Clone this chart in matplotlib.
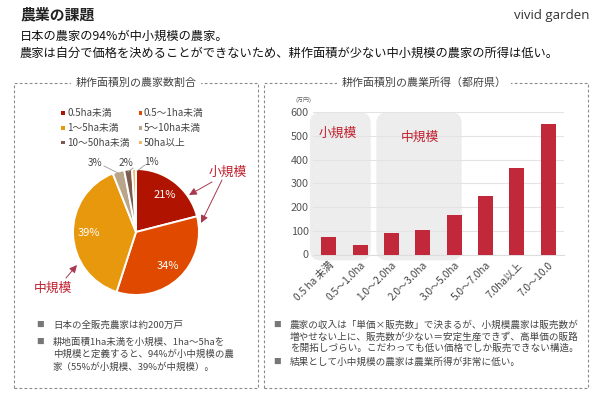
import matplotlib
matplotlib.use("Agg")
import matplotlib.pyplot as plt
from matplotlib.patches import Rectangle, FancyBboxPatch, FancyArrowPatch
from matplotlib.transforms import IdentityTransform

plt.rcParams['font.family'] = ['Noto Sans CJK JP', 'DejaVu Sans']

# ---------------- data ----------------
pie_labels = ['0.5ha未満', '0.5～1ha未満', '1～5ha未満', '5～10ha未満', '10～50ha未満', '50ha以上']
pie_values = [21, 34, 39, 3, 2, 1]
pie_colors = ['#B01400', '#E04A00', '#E8980C', '#B9A58A', '#7D5A4E', '#F0B86A']

bar_categories = ['0.5 ha 未満', '0.5～1.0ha', '1.0～2.0ha', '2.0～3.0ha', '3.0～5.0ha',
                  '5.0～7.0ha', '7.0ha以上', '7.0～10.0']
bar_values = [75, 38, 92, 102, 168, 248, 365, 550]
y_ticks = [0, 100, 200, 300, 400, 500, 600]
bar_color = '#C1283A'

W, H = 600, 395
fig = plt.figure(figsize=(6.0, 3.95), dpi=100)
fig.patch.set_facecolor('white')

def P(x, y):
    return (x / W, 1 - y / H)

RED = '#C0202E'

# ---------------- header ----------------
fig.text(*P(20, 14), '農業の課題', fontsize=10.7, fontweight='bold', color='#222222', va='center', ha='left')
fig.text(*P(590, 15), 'vivid garden', fontsize=9.5, color='#333333', va='center', ha='right',
         family=['Open Sans', 'DejaVu Sans'])
fig.text(*P(20, 36), '日本の農家の94%が中小規模の農家。', fontsize=8.8, color='#111111', va='center', ha='left')
fig.text(*P(20, 53), '農家は自分で価格を決めることができないため、耕作面積が少ない中小規模の農家の所得は低い。',
         fontsize=8.8, color='#111111', va='center', ha='left')

# ---------------- dashed boxes ----------------
def dashed_box(x0, y0, x1, y1):
    r = Rectangle(P(x0, y1), (x1 - x0) / W, (y1 - y0) / H, transform=fig.transFigure,
                  fill=False, edgecolor='#8a8a8a', linewidth=0.8, linestyle=(0, (2.5, 2)))
    fig.add_artist(r)

dashed_box(14, 83, 258, 388)
dashed_box(264, 83, 588, 388)
fig.text(*P(136, 83), '耕作面積別の農家数割合', fontsize=7.9, color='#444444', ha='center', va='center',
         bbox=dict(facecolor='white', edgecolor='none', pad=3))
fig.text(*P(424, 83), '耕作面積別の農業所得（都府県）', fontsize=7.9, color='#444444', ha='center', va='center',
         bbox=dict(facecolor='white', edgecolor='none', pad=3))

# ---------------- legend ----------------
leg_pos = [(63, 113), (140, 113), (63, 128), (140, 128), (63, 143), (140, 143)]
for (lx, ly), lab, col in zip(leg_pos, pie_labels, pie_colors):
    fig.add_artist(Rectangle(P(lx - 1.5, ly + 1.5), 3.5 / W, 3.5 / H, transform=fig.transFigure,
                             facecolor=col, edgecolor='none'))
    fig.text(*P(lx + 4, ly), lab, fontsize=7, color='#444444', ha='left', va='center')

# ---------------- pie ----------------
cx, cy, r = 136, 232, 63
axp = fig.add_axes([(cx - r) / W, 1 - (cy + r) / H, 2 * r / W, 2 * r / H])
wedges, texts, autotexts = axp.pie(
    pie_values, colors=pie_colors, startangle=90, counterclock=False,
    autopct=lambda p: f'{p:.0f}%' if p > 10 else '', pctdistance=0.74,
    wedgeprops=dict(edgecolor='white', linewidth=1.4),
    textprops=dict(color='white', fontsize=8))
axp.set_xlim(-1, 1)
axp.set_ylim(-1, 1)
axp.set_aspect('auto')
axp.axis('off')

# small slice labels with leader lines (figure pixel coords)
small_lab = [(3, (95, 163), (104, 166), (118, 173)),
             (4, (126, 163), (133, 168), (128, 172)),
             (5, (151, 162), (145, 165), (137, 171))]
for idx, (tx, ty), (l0x, l0y), (l1x, l1y) in small_lab:
    fig.text(*P(tx, ty), f'{pie_values[idx]}%', fontsize=7.2, color='#444444', ha='center', va='center')
    fig.add_artist(plt.Line2D([l0x / W, l1x / W], [1 - l0y / H, 1 - l1y / H],
                              transform=fig.transFigure, color='#999999', linewidth=0.6))

# group labels and arrows
fig.text(*P(228, 172), '小規模', fontsize=9.2, color=RED, ha='center', va='center')
fig.text(*P(53, 288), '中規模', fontsize=9.2, color=RED, ha='center', va='center')
arrow_kw = dict(arrowstyle='-|>,head_length=0.45,head_width=0.22', mutation_scale=10,
                color='#A83A50', linewidth=0.7, shrinkA=0, shrinkB=0)
for (x0, y0), (x1, y1) in [((212, 182), (189, 195)), ((222, 180), (201, 223)), ((66, 278), (77, 265))]:
    fig.add_artist(FancyArrowPatch((x0, H - y0), (x1, H - y1), transform=IdentityTransform(), **arrow_kw))

# ---------------- bar chart ----------------
bx0, bx1, by0, by1 = 313, 564, 254.5, 112.3
axb = fig.add_axes([bx0 / W, 1 - by0 / H, (bx1 - bx0) / W, (by0 - by1) / H])
xs = list(range(len(bar_values)))
axb.bar(xs, bar_values, width=0.48, color=bar_color, zorder=3)
axb.set_xlim(-0.5, len(bar_values) - 0.5)
axb.set_ylim(0, 600)
axb.set_yticks(y_ticks)
axb.set_yticklabels([str(v) for v in y_ticks], fontsize=7.8, color='#555555')
axb.set_xticks(xs)
axb.set_xticklabels(bar_categories, rotation=45, ha='right', va='top', rotation_mode='anchor',
                    fontsize=7.3, color='#444444')
axb.tick_params(axis='both', length=0, pad=3)
axb.tick_params(axis='x', pad=4)
axb.set_axisbelow(True)
axb.grid(axis='y', color='#e3e3e3', linewidth=0.8, zorder=1)
for s in ['top', 'right', 'left']:
    axb.spines[s].set_visible(False)
axb.spines['bottom'].set_color('#dddddd')
axb.patch.set_alpha(0)

# rounded group backgrounds
for (gx0, gx1, lab, lx, ly) in [(-0.6, 1.34, '小規模', 0.3, 510), (1.52, 4.24, '中規模', 2.9, 495)]:
    (px0, py0) = axb.transData.transform((gx0, -25))
    (px1, py1) = axb.transData.transform((gx1, 600))
    bg = FancyBboxPatch((px0, py0), px1 - px0, py1 - py0,
                        boxstyle='round,pad=0,rounding_size=11', transform=IdentityTransform(),
                        facecolor='#EDEDED', edgecolor='none', zorder=0.2, clip_on=False)
    axb.add_patch(bg)
    axb.text(lx, ly, lab, fontsize=9.2, color=RED, ha='center', va='center', zorder=4)

fig.text(*P(303, 100), '(万円)', fontsize=4.3, color='#666666', ha='center', va='center')

# ---------------- bullets ----------------
def bullet(x, y, lines, dy=12.5, fs=6.8):
    fig.text(*P(x, y), '■', fontsize=5.5, color='#777777', ha='center', va='center')
    for i, ln in enumerate(lines):
        fig.text(*P(x + 13, y + i * dy), ln, fontsize=fs, color='#444444', ha='left', va='center')

bullet(40, 325, ['日本の全販売農家は約200万戸'])
bullet(40, 342, ['耕地面積1ha未満を小規模、1ha～5haを',
                 '中規模と定義すると、94%が小中規模の農',
                 '家（55%が小規模、39%が中規模）。'])
bullet(277, 325, ['農家の収入は「単価×販売数」で決まるが、小規模農家は販売数が',
                  '増やせない上に、販売数が少ない＝安定生産できず、高単価の販路',
                  'を開拓しづらい。こだわっても低い価格でしか販売できない構造。'], dy=11.8, fs=6.9)
bullet(277, 362, ['結果として小中規模の農家は農業所得が非常に低い。'], fs=6.9)

fig.savefig('out.png', dpi=100, facecolor='white')
